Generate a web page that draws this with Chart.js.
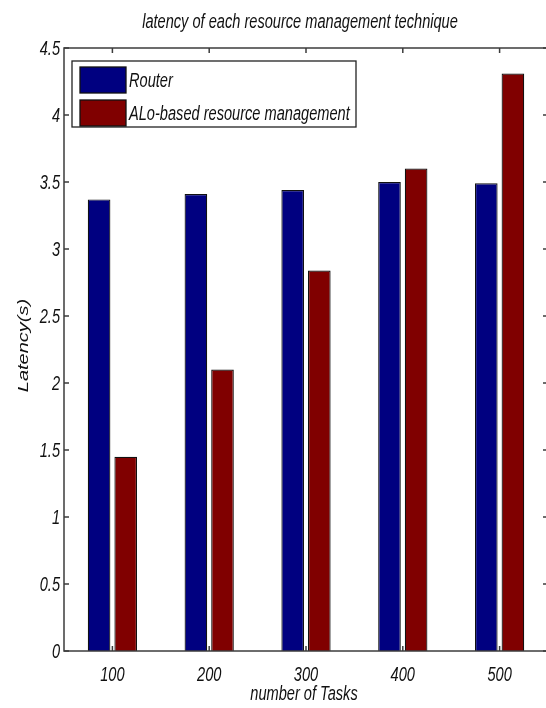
<!DOCTYPE html>
<html>
<head>
<meta charset="utf-8">
<script src="https://cdn.jsdelivr.net/npm/chart.js@4.4.1/dist/chart.umd.min.js"></script>
<style>
  html, body { margin: 0; padding: 0; background: #ffffff; overflow: hidden; }
  #box { position: relative; width: 550px; height: 708px; }
</style>
</head>
<body>
<div id="box"><canvas id="grafico"></canvas></div>
<script>
// ==================== DATA ====================
const tarefas = ['100', '200', '300', '400', '500'];
const router = [3.37, 3.41, 3.44, 3.50, 3.49];
const alo = [1.45, 2.10, 2.84, 3.60, 4.31];
const serieNomes = ['Router', 'ALo-based resource management'];
const titulo = 'latency of each resource management technique';
const tituloX = 'number of Tasks';
const tituloY = 'Latency(s)';

const FONTE = "italic 20px 'Liberation Sans', Arial, sans-serif";
const APERTO = 0.73;   // narrow helvetica look: squeeze text horizontally
const AZUL = '#000080';
const VERMELHO = '#800000';
const EIXO = '#3c3c3c';
const TEXTO = '#111111';

// ==================== TEXT HELPER ====================
function texto(ctx, str, x, y, align, rotado) {
    ctx.save();
    ctx.translate(x, y);
    if (rotado) {
        ctx.rotate(-Math.PI / 2);
        ctx.scale(1, APERTO);
    } else {
        ctx.scale(APERTO, 1);
    }
    ctx.font = FONTE;
    ctx.fillStyle = TEXTO;
    ctx.textAlign = align;
    ctx.textBaseline = 'alphabetic';
    ctx.fillText(str, 0, 0);
    ctx.restore();
}

// ==================== FRAME, TICKS, TEXT, LEGEND ====================
// matlab-style box: inward ticks on all four sides, legend inside the axes
const moldura = {
    id: 'moldura',
    afterDatasetsDraw(chart) {
        const { ctx, chartArea: a, scales } = chart;
        const tick = 5;
        ctx.save();
        ctx.strokeStyle = EIXO;
        ctx.lineWidth = 1.5;
        ctx.strokeRect(a.left, a.top, a.right - a.left, a.bottom - a.top);

        ctx.beginPath();
        scales.x.ticks.forEach((t, i) => {
            const px = scales.x.getPixelForTick(i);
            ctx.moveTo(px, a.bottom); ctx.lineTo(px, a.bottom - tick);
            ctx.moveTo(px, a.top); ctx.lineTo(px, a.top + tick);
        });
        scales.y.ticks.forEach(t => {
            const py = scales.y.getPixelForValue(t.value);
            ctx.moveTo(a.left, py); ctx.lineTo(a.left + tick, py);
            ctx.moveTo(a.right, py); ctx.lineTo(a.right - tick, py);
        });
        ctx.stroke();
        ctx.restore();

        // tick labels
        scales.x.ticks.forEach((t, i) => {
            texto(ctx, tarefas[i], scales.x.getPixelForTick(i), a.bottom + 30, 'center');
        });
        scales.y.ticks.forEach(t => {
            texto(ctx, String(t.value), a.left - 4, scales.y.getPixelForValue(t.value) + 7, 'right');
        });

        // titles
        texto(ctx, titulo, 300, 28, 'center');
        texto(ctx, tituloX, 304, 700, 'center');
        texto(ctx, tituloY, 28, (a.top + a.bottom) / 2 - 4, 'center', true);

        // legend
        const lx = 72, ly = 61, lw = 284, lh = 66;
        ctx.save();
        ctx.fillStyle = '#ffffff';
        ctx.fillRect(lx, ly, lw, lh);
        ctx.strokeStyle = '#222';
        ctx.lineWidth = 1.3;
        ctx.strokeRect(lx, ly, lw, lh);
        chart.data.datasets.forEach((ds, i) => {
            const sy = ly + 6 + i * 33;
            ctx.fillStyle = ds.backgroundColor;
            ctx.fillRect(lx + 8, sy, 46, 26);
            ctx.strokeStyle = '#111';
            ctx.strokeRect(lx + 8, sy, 46, 26);
            texto(ctx, ds.label, lx + 57, sy + 20, 'left');
        });
        ctx.restore();
    }
};

// ==================== CHART ====================
new Chart(document.getElementById('grafico'), {
    type: 'bar',
    data: {
        labels: tarefas,
        datasets: [
            { label: serieNomes[0], data: router, backgroundColor: AZUL, borderColor: '#111', borderWidth: 1.2 },
            { label: serieNomes[1], data: alo, backgroundColor: VERMELHO, borderColor: '#111', borderWidth: 1.2 }
        ]
    },
    options: {
        responsive: true,
        maintainAspectRatio: false,
        animation: false,
        datasets: { bar: { categoryPercentage: 0.55, barPercentage: 0.85 } },
        layout: { padding: { top: 48, right: 2, left: 0, bottom: 0 } },
        plugins: {
            legend: { display: false },
            title: { display: false },
            tooltip: { enabled: false }
        },
        scales: {
            x: {
                grid: { display: false, drawTicks: false },
                border: { display: false },
                ticks: { display: false },
                afterFit: s => { s.height = 57; }
            },
            y: {
                min: 0,
                max: 4.5,
                grid: { display: false, drawTicks: false },
                border: { display: false },
                ticks: { display: false, stepSize: 0.5 },
                afterFit: s => { s.width = 64; }
            }
        }
    },
    plugins: [moldura]
});
</script>
</body>
</html>
